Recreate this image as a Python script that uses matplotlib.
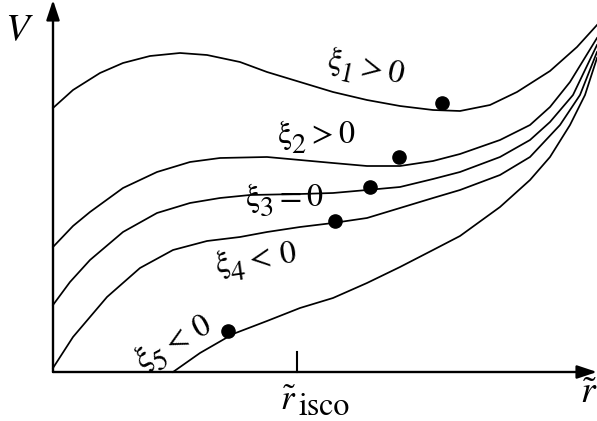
"""Schematic effective potential V(r) for different xi values."""

import matplotlib
matplotlib.use("Agg")
import matplotlib.pyplot as plt
import matplotlib._mathtext as mathtext_impl

plt.rcParams["font.family"] = "STIXGeneral"
plt.rcParams["mathtext.fontset"] = "stix"
# subscripts in the original are drawn nearly full size and sit low
mathtext_impl.SHRINK_FACTOR = 0.88
mathtext_impl.STIXFontConstants.sub1 = 0.75

# curves (r to the right, V upwards, origin at the axes corner)
r1 = [0, 20, 47, 70, 97, 127, 154, 187, 214, 247, 280, 314, 347, 380, 407, 437, 464, 497, 524, 544]
V1 = [264, 282, 299, 309, 316, 319, 317, 310, 300, 290, 280, 272, 266, 262, 261, 267, 280, 301, 325, 347]

r2 = [0, 20, 37, 70, 104, 137, 167, 214, 247, 280, 314, 347, 380, 407, 447, 477, 497, 517, 544]
V2 = [125, 146, 160, 184, 200, 210, 214, 215, 212, 209, 206, 206, 211, 218, 232, 247, 265, 290, 334]

r3 = [0, 17, 37, 70, 104, 137, 167, 197, 247, 280, 314, 347, 380, 407, 447, 477, 497, 520, 544]
V3 = [67, 90, 112, 140, 159, 169, 174, 177, 178, 179, 182, 185, 193, 200, 215, 232, 250, 277, 327]

r4 = [0, 20, 54, 87, 120, 154, 187, 214, 247, 280, 314, 347, 380, 407, 447, 477, 507, 527, 544]
V4 = [4, 35, 75, 104, 122, 131, 135, 140, 145, 149, 154, 164, 174, 182, 197, 215, 247, 277, 320]

r5 = [120, 147, 180, 214, 247, 280, 314, 347, 380, 407, 447, 477, 497, 517, 532, 544]
V5 = [0, 19, 38, 51, 64, 74, 89, 105, 122, 136, 165, 192, 215, 247, 277, 314]

dot_r = [389, 346, 317, 282, 175]
dot_V = [269, 215, 185, 151, 41]

labels = [r"$\mathrm{\xi}_{\mathit{1}} > \mathit{0}$",
          r"$\mathrm{\xi}_{2} > 0$",
          r"$\mathrm{\xi}_{3}{=}0$",
          r"$\mathrm{\xi}_{4}{<}\,0$",
          r"$\mathrm{\xi}_{5}{<}\,0$"]
label_r = [312, 263, 231, 203, 122]
label_V = [302, 235, 172, 110, 27]
label_rot = [-12, 0, 0, 8, 28]

r_isco = 244

fig = plt.figure(figsize=(5.97, 4.21), dpi=100)
ax = fig.add_axes([0, 0, 1, 1])
ax.set_xlim(-53, 544)
ax.set_ylim(-49, 372)
ax.axis("off")

for r, V in [(r1, V1), (r2, V2), (r3, V3), (r4, V4), (r5, V5)]:
    ax.plot(r, V, color="k", lw=1.25, solid_joinstyle="round")

ax.plot(dot_r, dot_V, "o", color="k", ms=9.5, ls="none")

for txt, r, V, rot in zip(labels, label_r, label_V, label_rot):
    ax.text(r, V, txt, fontsize=23, ha="center", va="center",
            rotation=rot, rotation_mode="anchor")

# axes with arrow heads
arrow = dict(arrowstyle="-|>,head_length=0.6,head_width=0.2", lw=1.7,
             color="k", mutation_scale=20, shrinkA=0, shrinkB=0)
ax.annotate("", xy=(0, 372), xytext=(0, 0), arrowprops=arrow, annotation_clip=False)
ax.annotate("", xy=(544, 0), xytext=(0, 0), arrowprops=arrow, annotation_clip=False)

ax.plot([r_isco, r_isco], [0, 20], color="k", lw=1.5)

ax.text(235, -38, r"$\tilde{r}$", fontsize=25, ha="center", va="baseline")
ax.text(245, -43, "isco", fontsize=23, ha="left", va="baseline")
ax.text(536, -31, r"$\tilde{r}$", fontsize=27, ha="center", va="baseline")
ax.text(-34, 332, r"$V$", fontsize=28, ha="center", va="baseline")

fig.savefig("out.png", dpi=100)
